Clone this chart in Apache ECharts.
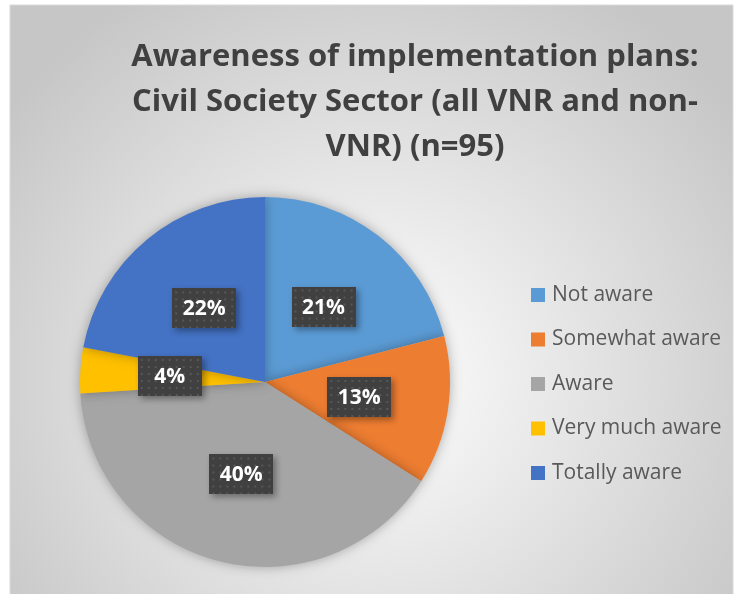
<!DOCTYPE html>
<html>
<head>
<meta charset="utf-8">
<script src="https://cdn.jsdelivr.net/npm/echarts@6/dist/echarts.min.js"></script>
<style>
  html, body { margin: 0; padding: 0; background: #fff; }
  #chart { width: 736px; height: 594px; }
</style>
</head>
<body>
<div id="chart"></div>
<script>
// Awareness of implementation plans - civil society sector
var categories = ['Not aware', 'Somewhat aware', 'Aware', 'Very much aware', 'Totally aware'];
var shares = [21, 13, 40, 4, 22];
var colors = ['#5b9bd5', '#ed7d31', '#a5a5a5', '#ffc000', '#4472c4'];

// dark dotted texture for the data label boxes
function dotPattern() {
	var c = document.createElement('canvas');
	c.width = 64;
	c.height = 40;
	var ctx = c.getContext('2d');
	ctx.fillStyle = '#404040';
	ctx.fillRect(0, 0, c.width, c.height);
	ctx.fillStyle = '#575757';
	for (var y = 3; y < c.height; y += 7) {
		for (var x = 3; x < c.width; x += 7) {
			ctx.fillRect(x, y, 2, 2);
		}
	}
	return c;
}

var myChart = echarts.init(document.getElementById('chart'));
var pieData = categories.map(function (name, i) {
	return {
		name: name,
		value: shares[i],
		itemStyle: { color: colors[i] }
	};
});

var option = {
	backgroundColor: '#fff',
	graphic: [{
		type: 'rect',
		z: -10,
		silent: true,
		shape: { x: 10, y: 5, width: 723, height: 600 },
		style: {
			fill: {
				type: 'radial',
				x: 0.5, y: 0.62, r: 0.75,
				colorStops: [
					{ offset: 0, color: '#ffffff' },
					{ offset: 1, color: '#c6c6c6' }
				]
			},
			stroke: '#d9d9d9',
			lineWidth: 1
		}
	}],
	title: {
		text: 'Awareness of implementation plans:\nCivil Society Sector (all VNR and non-\nVNR) (n=95)',
		left: 410,
		top: 30,
		textAlign: 'center',
		textStyle: {
			fontFamily: 'Open Sans',
			fontWeight: 'bold',
			fontSize: 31,
			lineHeight: 45,
			color: '#404040'
		}
	},
	legend: {
		orient: 'vertical',
		left: 526,
		top: 279,
		itemWidth: 14,
		itemHeight: 14,
		itemGap: 22.5,
		itemStyle: { borderWidth: 0 },
		icon: 'rect',
		data: categories,
		textStyle: {
			fontFamily: 'Open Sans',
			fontSize: 21,
			lineHeight: 22,
			color: '#595959',
			padding: [0, 0, 0, 2]
		}
	},
	series: [{
		name: 'Awareness',
		type: 'pie',
		radius: 185,
		center: [265, 382],
		startAngle: 90,
		clockwise: true,
		silent: true,
		data: pieData,
		itemStyle: {
			shadowBlur: 12,
			shadowColor: 'rgba(0,0,0,0.3)'
		},
		label: {
			position: 'inside',
			formatter: '{a|{c}%}',
			rich: {
				a: {
					fontFamily: 'Open Sans',
					fontWeight: 'bold',
					fontSize: 21,
					color: '#fff',
					width: 42,
					height: 22,
					align: 'center',
					padding: [10, 11, 8, 11],
					backgroundColor: { image: dotPattern() },
					shadowBlur: 6,
					shadowOffsetX: 3,
					shadowOffsetY: 3,
					shadowColor: 'rgba(0,0,0,0.35)'
				}
			}
		},
		labelLine: { show: false }
	}]
};
myChart.setOption(option);
</script>
</body>
</html>
